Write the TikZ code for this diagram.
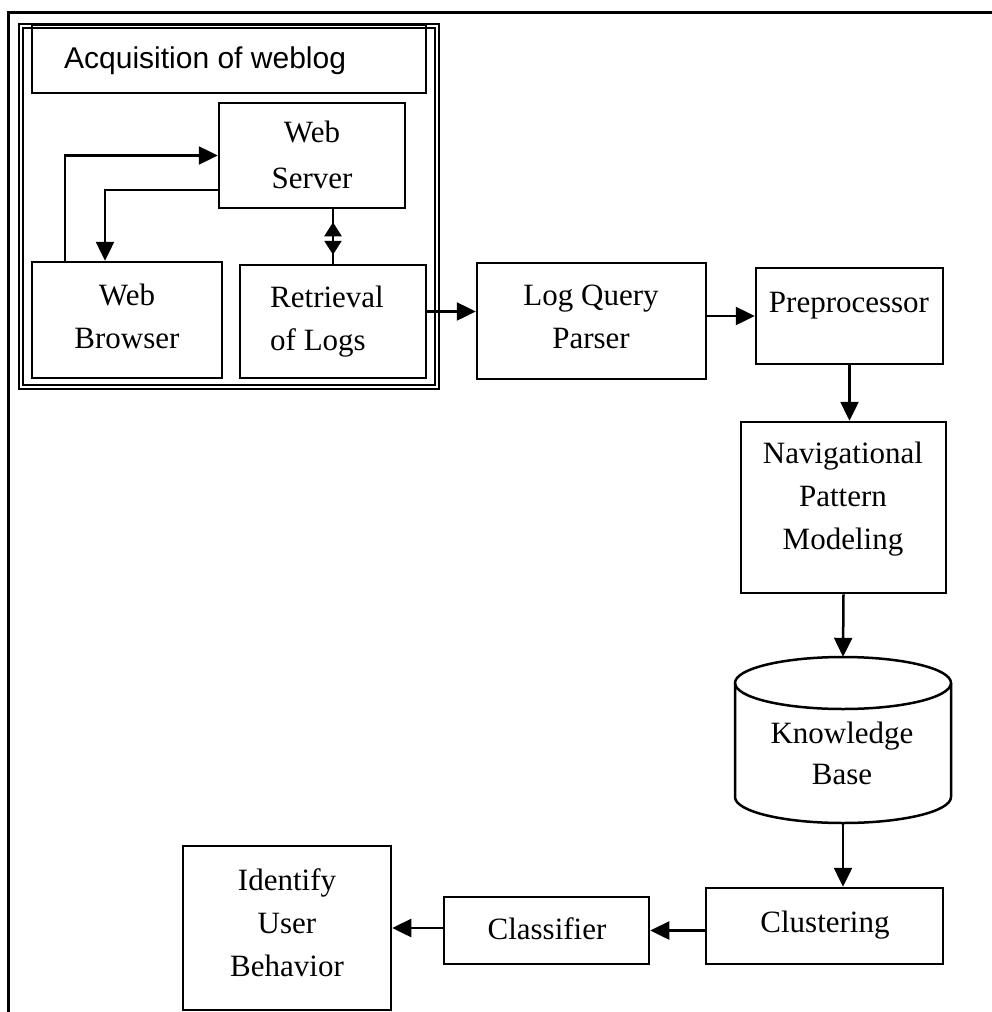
\documentclass[tikz,border=0pt]{standalone}
\usepackage{fontspec}
\setmainfont{Liberation Serif}
\newfontfamily\titlefont{Liberation Sans}
\usetikzlibrary{arrows.meta,fit}
% multi-line labels whose reference point is the first baseline
\newcommand{\ctext}[1]{\begin{tabular}[t]{@{}c@{}}#1\end{tabular}}
\newcommand{\ltext}[1]{\begin{tabular}[t]{@{}l@{}}#1\end{tabular}}
\begin{document}
\begin{tikzpicture}[x=1pt,y=-1pt,
  box/.style={draw, line width=2.5pt, inner sep=0pt},
  groupbox/.style={draw, double, line width=1.7pt, double distance=2.2pt, inner sep=0pt},
  lbl/.style={inner sep=0pt, anchor=base, font=\fontsize{31}{43}\selectfont},
  wire/.style={line width=2.5pt},
  arr/.style={wire, -{Triangle[length=19pt,width=18pt]}},
  darr/.style={wire, {Triangle[length=14pt,width=17pt]}-{Triangle[length=14pt,width=17pt]}}]

\fill[white] (0,0) rectangle (992,1012);
\useasboundingbox (0,0) rectangle (992,1012);

% page frame
\draw[line width=3pt] (8,1030) -- (8,12) -- (1010,12);

% acquisition block
\node[groupbox, fit={(21,26) (437,387)}] (acq) {};
\node[box, fit={(32,25) (426,93)}] (title) {};
\node[inner sep=0pt, anchor=base west, font=\titlefont\fontsize{30}{34}\selectfont]
  at (64,68) {Acquisition of weblog};

\node[box, fit={(219,103) (405,208)}] (ws) {};
\node[lbl] at (312,142) {\ctext{Web\\[3pt]Server}};

\node[box, fit={(32,262) (222,378)}] (wb) {};
\node[lbl] at (127,305) {\ctext{Web\\Browser}};

\node[box, fit={(240,265) (426,378)}] (ret) {};
\node[lbl, anchor=base west] at (270,307) {\ltext{Retrieval\\of Logs}};

% processing chain
\node[box, fit={(477,263) (706,379)}] (lqp) {};
\node[lbl] at (591,305) {\ctext{Log Query\\Parser}};

\node[box, fit={(756,268) (943,364)}] (pre) {};
\node[lbl] at (849,312) {Preprocessor};

\node[box, fit={(741,422) (946,593)}] (nav) {};
\node[lbl] at (843,463) {\ctext{Navigational\\Pattern\\Modeling}};

% knowledge base cylinder
\node[inner sep=0pt, fit={(735,657) (951,823)}] (kb) {};
\draw[line width=2.5pt] (843,683) ellipse [x radius=108, y radius=26];
\draw[line width=2.5pt] (735,683) -- (735,797) arc[start angle=180, end angle=360, x radius=108, y radius=-26] -- (951,683);
\node[lbl] at (842,743) {\ctext{Knowledge\\[-2pt]Base}};

\node[box, fit={(706,888) (943,964)}] (cl) {};
\node[lbl] at (825,932) {Clustering};

\node[box, fit={(444,897) (649,964)}] (cf) {};
\node[lbl] at (547,939) {Classifier};

\node[box, fit={(183,846) (391,1010)}] (id) {};
\node[lbl] at (287,890) {\ctext{Identify\\User\\Behavior}};

% connectors
\draw[arr] ([xshift=-62pt]wb.north) |- (ws.west);
\draw[arr] ([yshift=-34.5pt]ws.west) -| ([xshift=-22pt]wb.north);
\draw[wire] (ret.north |- ws.south) -- (ret.north);
\draw[darr, shorten <=13pt, shorten >=9pt] (ret.north |- ws.south) -- (ret.north);
\draw[arr] ([yshift=10pt]ret.east) coordinate (r1) -- (r1 -| lqp.west);
\draw[arr] (lqp.east |- pre.west) -- (pre.west);
\draw[arr] (pre.south) -- (pre.south |- nav.north);
\draw[arr] (nav.south) -- (kb.north);
\draw[arr] (kb.south) -- (kb.south |- cl.north);
\draw[arr] (cl.west |- cf.east) -- (cf.east);
\draw[arr] (cf.west |- id.east) -- (id.east);
\end{tikzpicture}
\end{document}
